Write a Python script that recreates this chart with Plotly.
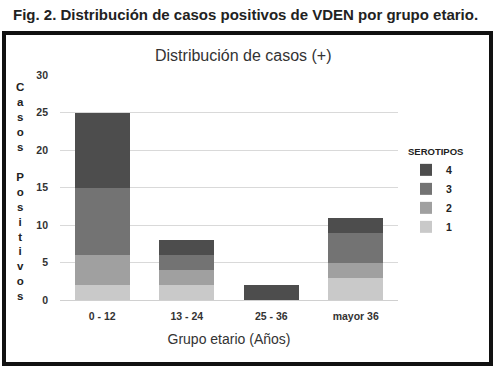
import plotly.graph_objects as go

categories = ["0 - 12", "13 - 24", "25 - 36", "mayor 36"]
serotipo_1 = [2, 2, 0, 3]
serotipo_2 = [4, 2, 0, 2]
serotipo_3 = [9, 2, 0, 4]
serotipo_4 = [10, 2, 2, 2]
series_names = ["1", "2", "3", "4"]
series_colors = ["#c9c9c9", "#a0a0a0", "#737373", "#4d4d4d"]
y_ticks = [0, 5, 10, 15, 20, 25, 30]
y_title_letters = list("Casos") + [" "] + list("Positivos")

fig = go.Figure()
for name, vals, col in zip(series_names, [serotipo_1, serotipo_2, serotipo_3, serotipo_4], series_colors):
    fig.add_trace(go.Bar(x=categories, y=vals, name=name, marker=dict(color=col, line=dict(width=0)),
                         width=0.65))

L, R, T, B = 60, 99, 75, 72
W, H = 497, 372
pw, ph = W - L - R, H - T - B

def px(x):
    return (x - L) / pw

def py(y):
    return (H - B - y) / ph

fig.update_layout(
    width=W, height=H,
    margin=dict(l=L, r=R, t=T, b=B, pad=0, autoexpand=False),
    barmode="stack",
    bargap=0.35,
    paper_bgcolor="white", plot_bgcolor="white",
    font=dict(family="Liberation Sans, Arial, sans-serif", color="#333333"),
    showlegend=True,
    legend=dict(
        title=dict(text="<b>SEROTIPOS</b>", font=dict(size=9.5, color="#222222"), side="top"),
        traceorder="reversed",
        font=dict(size=10.5, color="#222222", weight="bold"),
        x=px(406), y=py(143), xanchor="left", yanchor="top",
        itemwidth=30, bgcolor="rgba(0,0,0,0)",
    ),
    xaxis=dict(
        showgrid=False, showline=True, linecolor="#d0d0d0", linewidth=1,
        ticks="", tickfont=dict(size=10.5, color="#333333", weight="bold"),
        ticklabelstandoff=6,
        title=dict(text="Grupo etario (Años)", font=dict(size=14, color="#333333"), standoff=13),
    ),
    yaxis=dict(
        range=[0, 30], tickvals=y_ticks, showgrid=True, gridcolor="#d9d9d9", gridwidth=1,
        zeroline=False, showline=False, ticks="", tickfont=dict(size=10.5, color="#333333", weight="bold"),
        ticklabelstandoff=11,
    ),
)

fig.add_shape(type="rect", xref="paper", yref="paper",
              x0=px(4), x1=px(491), y0=py(364), y1=py(33),
              line=dict(color="#111111", width=4), fillcolor="rgba(0,0,0,0)", layer="below")

fig.add_annotation(text="<b>Fig. 2. Distribución de casos positivos de VDEN por grupo etario.</b>",
                   xref="paper", yref="paper", x=px(11), y=py(14), xanchor="left", yanchor="middle",
                   showarrow=False, font=dict(size=15, color="#222222"))
fig.add_annotation(text="Distribución de casos (+)", xref="paper", yref="paper",
                   x=px(243), y=py(55), xanchor="center", yanchor="middle",
                   showarrow=False, font=dict(size=16, color="#333333"))
fig.add_annotation(text="<br>".join(y_title_letters), xref="paper", yref="paper",
                   x=px(20), y=py(191), xanchor="center", yanchor="middle", align="center",
                   showarrow=False, font=dict(size=11.5, color="#222222", weight="bold"))

fig.write_html("out.html", config={"displayModeBar": False},
               post_script="document.body.style.margin='0';document.body.style.padding='0';")
